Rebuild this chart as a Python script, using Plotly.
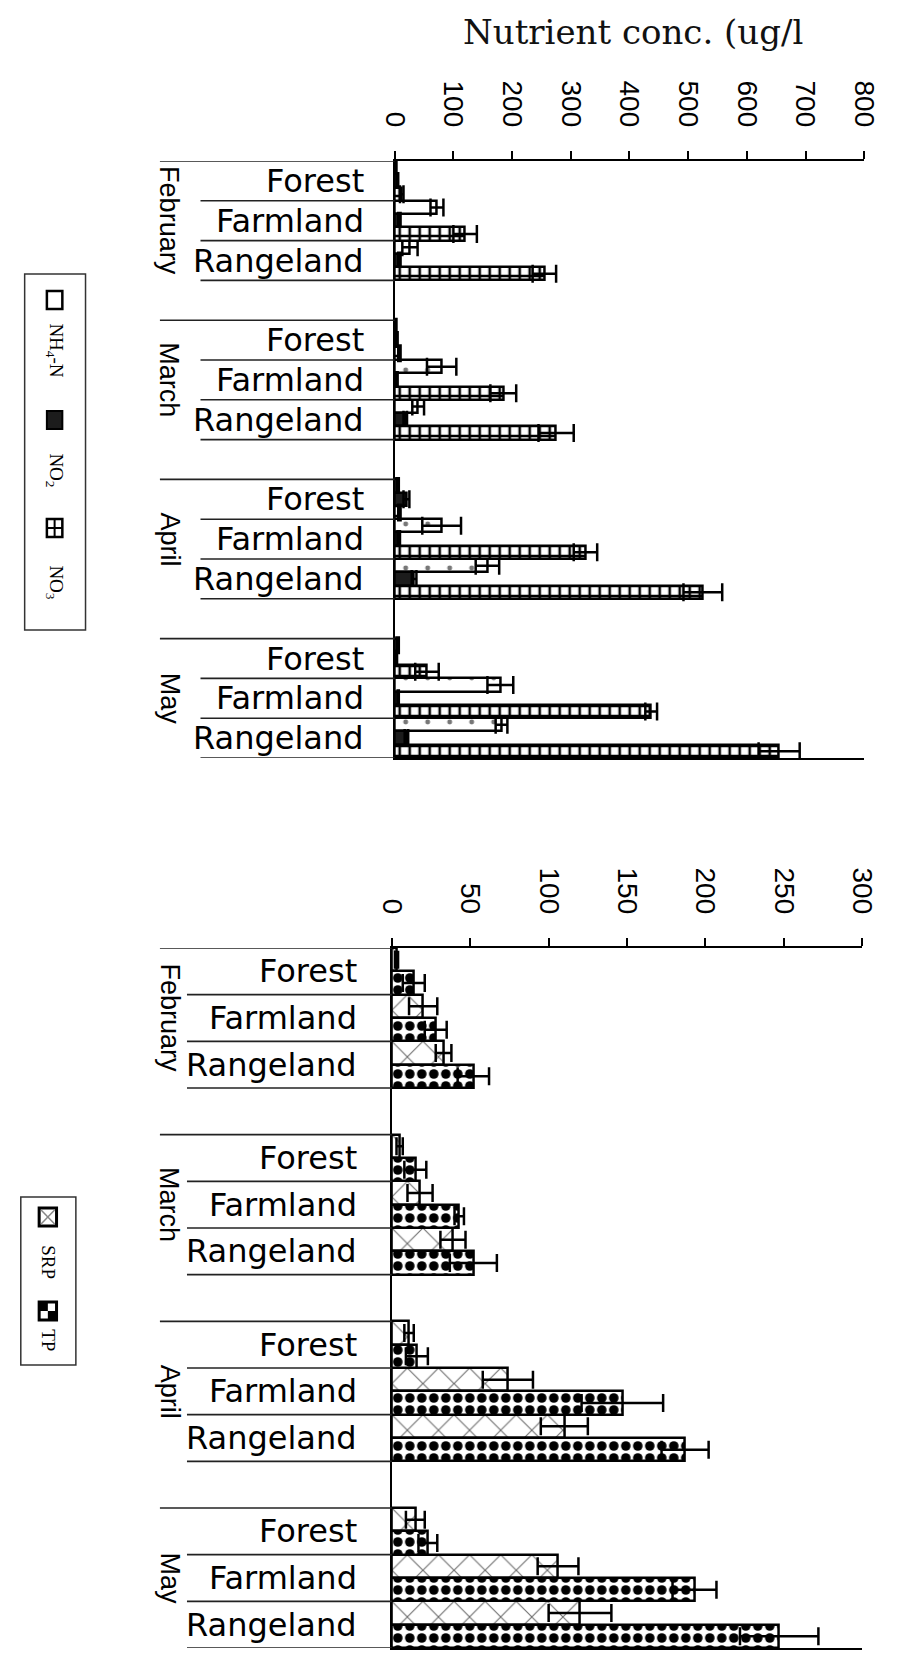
import plotly.graph_objects as go

W, H = 916, 1665

months = ["February", "March", "April", "May"]
land_uses = ["Forest", "Farmland", "Rangeland"]

# Nitrogen species (ug/l), ordered month by month: Forest, Farmland, Rangeland
nh4 = [2, 72, 26, 2, 80, 40, 5, 80, 158, 5, 180, 182]
nh4_err = [1, 11, 13, 1, 25, 10, 2, 33, 20, 2, 22, 10]
no2 = [5, 8, 8, 4, 4, 18, 20, 7, 33, 3, 6, 20]
no2_err = [1, 2, 2, 1, 1, 3, 5, 2, 4, 1, 1, 3]
no3 = [12, 120, 255, 8, 185, 275, 8, 325, 525, 55, 437, 655]
no3_err = [3, 20, 20, 2, 22, 30, 2, 20, 33, 20, 10, 35]

# Phosphorus species (ug/l)
srp = [3, 20, 33, 5, 18, 39, 11, 74, 110, 15, 106, 120]
srp_err = [1, 9, 5, 2, 8, 8, 3, 16, 15, 6, 13, 20]
tp = [14, 28, 52, 15, 43, 52, 16, 147, 187, 23, 193, 247]
tp_err = [7, 7, 10, 7, 3, 15, 7, 26, 15, 6, 14, 25]

top_ticks = [0, 100, 200, 300, 400, 500, 600, 700, 800]
bottom_ticks = [0, 50, 100, 150, 200, 250, 300]

# one blank slot between month groups
pos = [4 * m + k for m in range(len(months)) for k in range(len(land_uses))]


def px(xp):
    return xp / W


def py(yp):
    return 1 - yp / H


OUTLINE = dict(color="black", width=2.5)


def err(arr):
    return dict(type="data", array=arr, symmetric=True, color="black",
                thickness=2.5, width=9)


def pat(shape, fg, size, solidity):
    return dict(shape=shape, fgcolor=fg, bgcolor="white", size=size,
                solidity=solidity, fillmode="replace", fgopacity=1)


fig = go.Figure()

fig.add_trace(go.Bar(
    name="NH4-N", orientation="h", x=nh4, y=pos, xaxis="x", yaxis="y",
    marker=dict(color="white", line=OUTLINE, pattern=pat(".", "#777", 22, 0.04)),
    error_x=err(nh4_err)))
fig.add_trace(go.Bar(
    name="NO2", orientation="h", x=no2, y=pos, xaxis="x", yaxis="y",
    marker=dict(color="#1c1c1c", line=OUTLINE), error_x=err(no2_err)))
fig.add_trace(go.Bar(
    name="NO3", orientation="h", x=no3, y=pos, xaxis="x", yaxis="y",
    marker=dict(color="white", line=OUTLINE, pattern=pat("+", "black", 10, 0.45)),
    error_x=err(no3_err)))

fig.add_trace(go.Bar(
    name="SRP", orientation="h", x=srp, y=pos, xaxis="x2", yaxis="y2",
    marker=dict(color="white", line=OUTLINE, pattern=pat("x", "#6f6f6f", 22, 0.1)),
    error_x=err(srp_err)))
fig.add_trace(go.Bar(
    name="TP", orientation="h", x=tp, y=pos, xaxis="x2", yaxis="y2",
    marker=dict(color="white", line=OUTLINE, pattern=pat(".", "black", 12, 0.5)),
    error_x=err(tp_err)))

tick_font = dict(family="Liberation Sans", size=28, color="black")
common_x = dict(side="top", ticks="outside", ticklen=8, tickwidth=2,
                tickcolor="black", showline=True, linecolor="black",
                linewidth=2, mirror=True, tickangle=90, tickfont=tick_font,
                showgrid=False, zeroline=False, ticklabelstandoff=14,
                fixedrange=True)
common_y = dict(range=[14.5, -0.5], showline=True, linecolor="black",
                linewidth=2, showticklabels=False, ticks="", showgrid=False,
                zeroline=False)

charts = [
    # axis suffix, left px, right px, top px, bottom px, ticks, label right, short line start
    ("", 393, 879, 161, 758, top_ticks, 363, 192),
    ("2", 390, 877, 948, 1648, bottom_ticks, 356, 178),
]

layout_axes = {}
shapes = []
annotations = []
for suf, x0, x1, y0, y1, ticks, lab_x, short_x in charts:
    layout_axes["xaxis" + suf] = dict(
        common_x, domain=[px(x0), px(x1)], range=[ticks[0], ticks[-1]],
        tickvals=ticks, anchor="y" + suf)
    layout_axes["yaxis" + suf] = dict(
        common_y, domain=[py(y1), py(y0)], anchor="x" + suf)
    yref = "y" + suf
    for m, month in enumerate(months):
        shapes.append(dict(type="line", xref="paper", yref=yref,
                           x0=px(150), x1=px(x0), y0=4 * m - 0.5,
                           y1=4 * m - 0.5,
                           line=dict(color="#222", width=1.6)))
        for k, lu in enumerate(land_uses):
            shapes.append(dict(type="line", xref="paper", yref=yref,
                               x0=px(short_x), x1=px(x0),
                               y0=4 * m + k + 0.5, y1=4 * m + k + 0.5,
                               line=dict(color="#222", width=1.6)))
            annotations.append(dict(
                text=lu, xref="paper", yref=yref, x=px(lab_x),
                y=4 * m + k, xanchor="right", yanchor="middle",
                showarrow=False,
                font=dict(family="DejaVu Sans", size=32, color="black")))
        annotations.append(dict(
            text=month, xref="paper", yref=yref, x=px(160), y=4 * m + 1,
            xanchor="center", yanchor="middle", textangle=90,
            showarrow=False,
            font=dict(family="Liberation Sans", size=27, color="black")))

annotations.append(dict(
    text="Nutrient conc. (ug/l", xref="paper", yref="paper",
    x=px(640), y=py(32), xanchor="center", yanchor="middle",
    showarrow=False,
    font=dict(family="DejaVu Serif", size=34, color="#111")))

# legend panels, drawn as rotated keys
leg_font = dict(family="Liberation Serif", size=19, color="black")


def rect(xa, xb, ya, yb, fill="white", lw=2, col="black"):
    return dict(type="rect", xref="paper", yref="paper",
                x0=px(xa), x1=px(xb), y0=py(yb), y1=py(ya),
                fillcolor=fill, line=dict(color=col, width=lw))


def seg(xa, ya, xb, yb, col="black", lw=2):
    return dict(type="line", xref="paper", yref="paper",
                x0=px(xa), y0=py(ya), x1=px(xb), y1=py(yb),
                line=dict(color=col, width=lw))


def leg_text(txt, xc, yc):
    return dict(text=txt, xref="paper", yref="paper", x=px(xc), y=py(yc),
                xanchor="center", yanchor="middle", textangle=90,
                showarrow=False, font=leg_font)


# nitrogen key
shapes.append(rect(10, 73, 274, 630, fill="rgba(0,0,0,0)", lw=1.5, col="#333"))
shapes.append(rect(33, 49, 291, 309, lw=2.5))
annotations.append(leg_text("NH<sub>4</sub>-N", 41, 350))
shapes.append(rect(33, 49, 411, 429, fill="#1c1c1c", lw=2))
annotations.append(leg_text("NO<sub>2</sub>", 41, 470))
shapes.append(rect(33, 49, 519, 537, lw=2.5))
shapes.append(seg(41, 519, 41, 537))
shapes.append(seg(33, 528, 49, 528))
annotations.append(leg_text("NO<sub>3</sub>", 41, 582))

# phosphorus key
shapes.append(rect(6, 63, 1197, 1365, fill="rgba(0,0,0,0)", lw=1.5, col="#333"))
shapes.append(rect(25, 43, 1208, 1226, lw=3))
shapes.append(seg(27, 1210, 41, 1224, col="#888", lw=1.5))
shapes.append(seg(27, 1224, 41, 1210, col="#888", lw=1.5))
annotations.append(leg_text("SRP", 35, 1262))
shapes.append(rect(25, 43, 1302, 1320, lw=3))
shapes.append(rect(25, 34, 1302, 1311, fill="black", lw=0))
shapes.append(rect(34, 43, 1311, 1320, fill="black", lw=0))
annotations.append(leg_text("TP", 35, 1340))

fig.update_layout(
    width=W, height=H, margin=dict(l=0, r=0, t=0, b=0),
    paper_bgcolor="white", plot_bgcolor="white",
    barmode="group", bargap=0, bargroupgap=0, showlegend=False,
    shapes=shapes, annotations=annotations, **layout_axes)

# the page body gets no margin so the figure starts at the window corner
fig.write_html("out.html",
               post_script="document.body.style.margin='0';")
